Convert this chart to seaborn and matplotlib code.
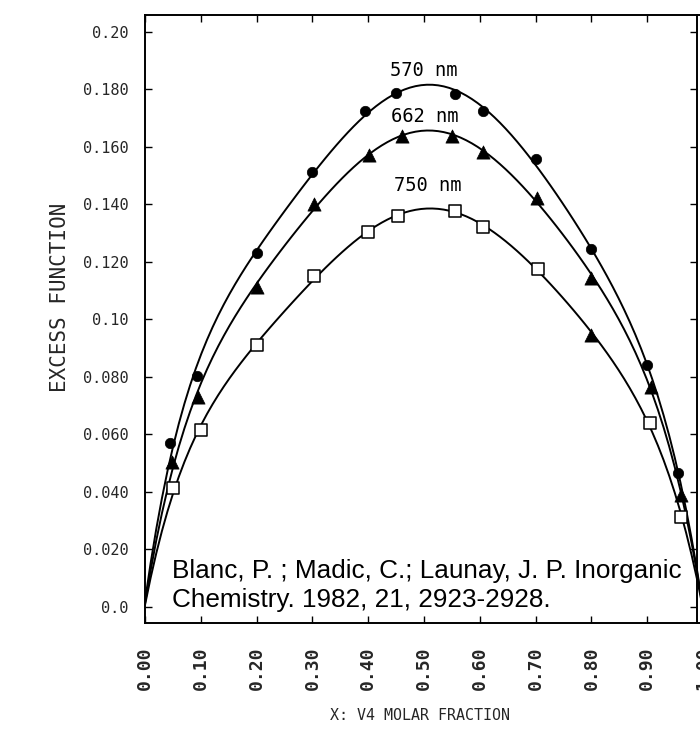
import matplotlib
matplotlib.use("Agg")
import numpy as np
import pandas as pd
import seaborn as sns
import matplotlib.pyplot as plt

# ---------------- data ----------------
x_570 = [0.045, 0.093, 0.200, 0.300, 0.395, 0.450, 0.555, 0.605, 0.700, 0.800, 0.900, 0.955]
y_570 = [0.0570, 0.0803, 0.1231, 0.1513, 0.1725, 0.1788, 0.1784, 0.1725, 0.1558, 0.1245, 0.0842, 0.0466]

x_662 = [0.048, 0.095, 0.200, 0.302, 0.402, 0.460, 0.551, 0.605, 0.703, 0.800, 0.907, 0.960]
y_662 = [0.0504, 0.0730, 0.1113, 0.1402, 0.1572, 0.1638, 0.1638, 0.1583, 0.1423, 0.1144, 0.0765, 0.0390]

x_750 = [0.050, 0.100, 0.200, 0.302, 0.400, 0.454, 0.555, 0.606, 0.705, 0.800, 0.905, 0.960]
y_750 = [0.0414, 0.0616, 0.0911, 0.1151, 0.1304, 0.1360, 0.1377, 0.1322, 0.1176, 0.0946, 0.0640, 0.0313]
# in the original, the 0.80 point of the 750 nm series is printed as a triangle
marker_750 = ["s", "s", "s", "s", "s", "s", "s", "s", "s", "^", "s", "s"]

# pure components: excess function is zero at x = 0 and x = 1
end_x = [0.0, 1.0]
end_y = [0.0, 0.0]

series_labels = ["570 nm", "662 nm", "750 nm"]
label_pos = [(0.500, 0.1865), (0.502, 0.1705), (0.507, 0.1465)]

xticks = [0.0, 0.1, 0.2, 0.3, 0.4, 0.5, 0.6, 0.7, 0.8, 0.9, 1.0]
xtick_labels = ["0.00", "0.10", "0.20", "0.30", "0.40", "0.50",
                "0.60", "0.70", "0.80", "0.90", "1.00"]
yticks = [0.0, 0.02, 0.04, 0.06, 0.08, 0.10, 0.12, 0.14, 0.16, 0.18, 0.20]
ytick_labels = ["0.0", "0.020", "0.040", "0.060", "0.080", "0.10",
                "0.120", "0.140", "0.160", "0.180", "0.20"]

citation = "Blanc, P. ; Madic, C.; Launay, J. P. Inorganic\nChemistry. 1982, 21, 2923-2928."

# ---------------- figure ----------------
sns.set_theme(style="ticks")
plt.rcParams["font.family"] = ["DejaVu Sans Mono", "DejaVu Sans"]

W, H = 700, 739
fig = plt.figure(figsize=(W / 100, H / 100), dpi=100)
ax = fig.add_axes([145 / W, (H - 623) / H, (703 - 145) / W, (623 - 15) / H])
ax.set_xlim(0, 1.0)
ax.set_ylim(-0.00557, 0.20591)

# fitted curves
for xs, ys in [(x_570, y_570), (x_662, y_662), (x_750, y_750)]:
    sns.regplot(x=np.array(xs + end_x), y=np.array(ys + end_y), order=6,
                scatter=False, ci=None, truncate=True, ax=ax,
                line_kws=dict(color="black", lw=1.4))

# markers
sns.scatterplot(x=x_570, y=y_570, marker="o", s=7.5 ** 2, color="black",
                edgecolor="black", linewidth=0.5, ax=ax, zorder=5)
sns.scatterplot(x=x_662, y=y_662, marker="^", s=9.5 ** 2, color="black",
                edgecolor="black", linewidth=0.5, ax=ax, zorder=5)
df750 = pd.DataFrame({"x": x_750, "y": y_750, "m": marker_750})
for mk, sub in df750.groupby("m"):
    if mk == "s":
        sns.scatterplot(data=sub, x="x", y="y", marker="s", s=8.6 ** 2,
                        color="white", edgecolor="black", linewidth=1.1,
                        ax=ax, zorder=5)
    else:
        sns.scatterplot(data=sub, x="x", y="y", marker="^", s=9.5 ** 2,
                        color="black", edgecolor="black", linewidth=0.5,
                        ax=ax, zorder=5)

for lab, (lx, ly) in zip(series_labels, label_pos):
    ax.text(lx, ly, lab, ha="center", va="center", fontsize=13.5,
            family="DejaVu Sans Mono", color="black")

ax.text(0.048, 0.0, citation, ha="left", va="baseline",
        fontsize=18.8, family="Liberation Sans", linespacing=1.25,
        color="black")

# axes styling
ax.set_xlabel("")
ax.set_ylabel("")
ax.set_xticks(xticks)
ax.set_xticklabels(xtick_labels, rotation=90, family="DejaVu Sans Mono",
                   fontweight="bold", fontsize=13)
ax.set_yticks(yticks)
ax.set_yticklabels(ytick_labels, family="DejaVu Sans Mono",
                   fontweight="bold", fontsize=13)
ax.tick_params(axis="both", which="major", direction="in", length=5,
               width=1.0, color="black", top=True, right=True)
ax.tick_params(axis="y", pad=12)
ax.tick_params(axis="x", pad=17)
for sp in ax.spines.values():
    sp.set_linewidth(1.4)
    sp.set_color("black")
ax.spines["right"].set_position(("data", 0.9895))

fig.text(60 / W, 1 - 297 / H, "EXCESS FUNCTION", rotation=90, ha="center",
         va="center", family="DejaVu Sans Mono", fontsize=15)
fig.text(420 / W, 1 - 715 / H, "X: V4 MOLAR FRACTION", ha="center",
         va="center", family="DejaVu Sans Mono", fontsize=10.8)

fig.savefig("out.png", dpi=100, facecolor="white")
